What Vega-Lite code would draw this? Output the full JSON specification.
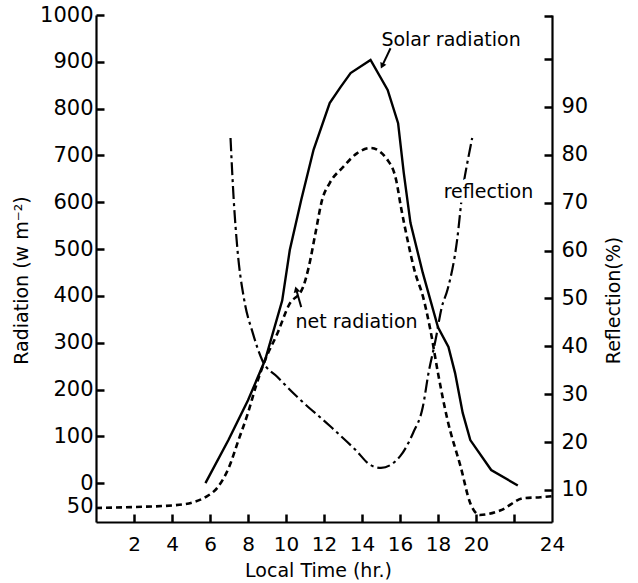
{
  "$schema": "https://vega.github.io/schema/vega-lite/v6.json",
  "width": 456,
  "height": 507,
  "autosize": {"type": "none"},
  "padding": {"left": 96, "top": 15, "right": 86, "bottom": 61},
  "background": "white",
  "config": {
    "view": {"stroke": null},
    "font": "DejaVu Sans",
    "axis": {
      "domainColor": "black", "domainWidth": 2.2,
      "labelColor": "black", "labelFont": "DejaVu Sans", "labelFontSize": 21, "labelFlush": false, "labelOverlap": false,
      "titleColor": "black", "titleFont": "DejaVu Sans", "titleFontSize": 19, "titleFontWeight": "normal"
    }
  },
  "datasets": {
    "curves": [
      {"series": "solar", "hour": 5.76, "value": 0},
      {"series": "solar", "hour": 6.97, "value": 92},
      {"series": "solar", "hour": 8.0, "value": 177},
      {"series": "solar", "hour": 8.9, "value": 263},
      {"series": "solar", "hour": 9.8, "value": 390},
      {"series": "solar", "hour": 10.2, "value": 498},
      {"series": "solar", "hour": 10.8, "value": 605},
      {"series": "solar", "hour": 11.45, "value": 712},
      {"series": "solar", "hour": 12.3, "value": 812},
      {"series": "solar", "hour": 12.87, "value": 846},
      {"series": "solar", "hour": 13.4, "value": 876},
      {"series": "solar", "hour": 14.45, "value": 904},
      {"series": "solar", "hour": 15.35, "value": 840},
      {"series": "solar", "hour": 15.9, "value": 769},
      {"series": "solar", "hour": 16.2, "value": 662},
      {"series": "solar", "hour": 16.55, "value": 556},
      {"series": "solar", "hour": 17.2, "value": 449},
      {"series": "solar", "hour": 18.0, "value": 333},
      {"series": "solar", "hour": 18.55, "value": 291},
      {"series": "solar", "hour": 18.9, "value": 235},
      {"series": "solar", "hour": 19.3, "value": 150},
      {"series": "solar", "hour": 19.7, "value": 92},
      {"series": "solar", "hour": 20.8, "value": 28},
      {"series": "solar", "hour": 22.2, "value": -5},
      {"series": "net", "hour": 0, "value": -53},
      {"series": "net", "hour": 2, "value": -51},
      {"series": "net", "hour": 4.2, "value": -47},
      {"series": "net", "hour": 5.1, "value": -41},
      {"series": "net", "hour": 5.76, "value": -30},
      {"series": "net", "hour": 6.4, "value": -9},
      {"series": "net", "hour": 7.0, "value": 34},
      {"series": "net", "hour": 7.5, "value": 92},
      {"series": "net", "hour": 8.0, "value": 150},
      {"series": "net", "hour": 8.4, "value": 205},
      {"series": "net", "hour": 8.9, "value": 263},
      {"series": "net", "hour": 9.55, "value": 320},
      {"series": "net", "hour": 10.15, "value": 380},
      {"series": "net", "hour": 10.9, "value": 419},
      {"series": "net", "hour": 11.2, "value": 462},
      {"series": "net", "hour": 11.55, "value": 534},
      {"series": "net", "hour": 11.9, "value": 605},
      {"series": "net", "hour": 12.3, "value": 641},
      {"series": "net", "hour": 13.0, "value": 675},
      {"series": "net", "hour": 13.75, "value": 705},
      {"series": "net", "hour": 14.45, "value": 716},
      {"series": "net", "hour": 15.35, "value": 690},
      {"series": "net", "hour": 15.8, "value": 647},
      {"series": "net", "hour": 16.05, "value": 590},
      {"series": "net", "hour": 16.4, "value": 519},
      {"series": "net", "hour": 16.8, "value": 449},
      {"series": "net", "hour": 17.2, "value": 400},
      {"series": "net", "hour": 17.6, "value": 327},
      {"series": "net", "hour": 18.0, "value": 235},
      {"series": "net", "hour": 18.5, "value": 135},
      {"series": "net", "hour": 19.2, "value": 34},
      {"series": "net", "hour": 19.7, "value": -43},
      {"series": "net", "hour": 20.2, "value": -68},
      {"series": "net", "hour": 21.3, "value": -58},
      {"series": "net", "hour": 22.5, "value": -32},
      {"series": "net", "hour": 23.4, "value": -30},
      {"series": "net", "hour": 24, "value": -28}
    ],
    "reflection": [
      {"hour": 7.08, "pct": 83.5},
      {"hour": 7.25, "pct": 70.5},
      {"hour": 7.45, "pct": 60},
      {"hour": 7.8, "pct": 49.7},
      {"hour": 8.25, "pct": 42.8},
      {"hour": 8.75, "pct": 37.1},
      {"hour": 9.55, "pct": 33.6},
      {"hour": 10.6, "pct": 29.4},
      {"hour": 12.3, "pct": 23.4},
      {"hour": 13.65, "pct": 18.4},
      {"hour": 14.45, "pct": 15.2},
      {"hour": 15.0, "pct": 14.6},
      {"hour": 16.0, "pct": 17},
      {"hour": 16.7, "pct": 22},
      {"hour": 17.2, "pct": 27.3},
      {"hour": 17.5, "pct": 34.4},
      {"hour": 17.87, "pct": 41.3},
      {"hour": 18.2, "pct": 48.2},
      {"hour": 18.5, "pct": 51.8},
      {"hour": 19.0, "pct": 62},
      {"hour": 19.3, "pct": 72.6},
      {"hour": 19.6, "pct": 79.5},
      {"hour": 19.8, "pct": 83.5}
    ],
    "reflectionLabel": [
      {"label": "reflection", "hour": 18.3, "pct": 72.2}
    ],
    "labels": [
      {"label": "Solar radiation", "hour": 15.02, "value": 947},
      {"label": "net radiation", "hour": 10.5, "value": 344}
    ],
    "arrows": [
      {"arrow": "solar", "hour": 15.5, "value": 929, "hour2": 15.08, "value2": 893},
      {"arrow": "net", "hour": 10.8, "value": 376, "hour2": 10.55, "value2": 412}
    ]
  },
  "layer": [
    {
      "data": {"name": "reflection"},
      "mark": {"type": "line", "color": "black", "strokeWidth": 2.2, "strokeDash": [13, 4, 3, 4], "interpolate": "monotone"},
      "encoding": {
        "x": {"field": "hour", "type": "quantitative", "scale": {"domain": [0, 24], "nice": false, "zero": false},
          "axis": {"orient": "bottom", "grid": false, "labelFlush": false, "values": [2, 4, 6, 8, 10, 12, 14, 16, 18, 20, 22, 24], "labelExpr": "datum.value === 22 ? '' : datum.label", "ticks": false, "labelPadding": 12, "labelFontSize": 20, "title": "Local Time (hr.)", "titleX": 222, "titleY": 48, "titleBaseline": "middle", "titleAlign": "center"}},
        "y": {"field": "pct", "type": "quantitative", "scale": {"domain": [3.3, 109.2], "nice": false, "zero": false},
          "axis": {"orient": "right", "grid": false, "labelFlush": false, "values": [10, 20, 30, 40, 50, 60, 70, 80, 90], "ticks": false, "labelPadding": 9, "title": "Reflection(%)", "titleX": 61, "titleY": 285, "titleAngle": 270, "titleBaseline": "middle", "titleAlign": "center"}}
      }
    },
    {
      "data": {"name": "reflectionLabel"},
      "mark": {"type": "text", "align": "left", "baseline": "middle", "fontSize": 19, "font": "DejaVu Sans", "color": "white", "stroke": "white", "strokeWidth": 9},
      "encoding": {
        "x": {"field": "hour", "type": "quantitative", "axis": null},
        "y": {"field": "pct", "type": "quantitative", "scale": {"domain": [3.3, 109.2], "nice": false, "zero": false},
          "axis": {"orient": "left", "grid": false, "offset": -456, "values": [10, 20, 30, 40, 50, 60, 70, 80, 90, 100, 109], "tickSize": 8, "tickWidth": 2.5, "tickColor": "black", "labels": false, "domain": false, "title": null}},
        "text": {"field": "label"}
      }
    },
    {
      "data": {"name": "reflectionLabel"},
      "mark": {"type": "text", "align": "left", "baseline": "middle", "fontSize": 19, "font": "DejaVu Sans", "color": "black"},
      "encoding": {
        "x": {"field": "hour", "type": "quantitative", "axis": null},
        "y": {"field": "pct", "type": "quantitative", "scale": {"domain": [3.3, 109.2], "nice": false, "zero": false}, "axis": null},
        "text": {"field": "label"}
      }
    },
    {
      "data": {"name": "curves"},
      "transform": [{"filter": "datum.series === 'solar'"}],
      "mark": {"type": "line", "color": "black", "strokeWidth": 2.4, "interpolate": "linear"},
      "encoding": {
        "x": {"field": "hour", "type": "quantitative", "axis": null},
        "y": {"field": "value", "type": "quantitative", "scale": {"domain": [-83, 1000], "nice": false, "zero": false},
          "axis": {"orient": "left", "grid": false, "labelFlush": false, "values": [-50, 0, 100, 200, 300, 400, 500, 600, 700, 800, 900, 1000], "format": "d", "labelExpr": "datum.value < 0 ? '50' : datum.label", "ticks": false, "labelPadding": 3, "title": "Radiation (w m⁻²)", "titleX": -75, "titleY": 265, "titleAngle": 270, "titleBaseline": "middle", "titleAlign": "center"}}
      }
    },
    {
      "data": {"name": "curves"},
      "transform": [{"filter": "datum.series === 'net'"}],
      "mark": {"type": "line", "color": "black", "strokeWidth": 2.6, "strokeDash": [6, 4], "interpolate": "monotone"},
      "encoding": {
        "x": {"field": "hour", "type": "quantitative", "axis": null},
        "y": {"field": "value", "type": "quantitative", "scale": {"domain": [-83, 1000], "nice": false, "zero": false},
          "axis": {"orient": "right", "grid": false, "offset": -456, "values": [0, 100, 200, 300, 400, 500, 600, 700, 800, 900, 1000], "tickSize": 8, "tickWidth": 2.5, "tickColor": "black", "labels": false, "domain": false, "title": null}}
      }
    },
    {
      "data": {"name": "labels"},
      "mark": {"type": "text", "align": "left", "baseline": "middle", "fontSize": 19, "font": "DejaVu Sans", "color": "black"},
      "encoding": {
        "x": {"field": "hour", "type": "quantitative",
          "axis": {"orient": "top", "grid": false, "offset": -507, "values": [2, 4, 6, 8, 10, 12, 14, 16, 18, 20, 22], "tickSize": 8, "tickWidth": 2.5, "tickColor": "black", "labels": false, "domain": false, "title": null}},
        "y": {"field": "value", "type": "quantitative", "scale": {"domain": [-83, 1000], "nice": false, "zero": false}, "axis": null},
        "text": {"field": "label"}
      }
    },
    {
      "data": {"name": "arrows"},
      "mark": {"type": "rule", "color": "black", "strokeWidth": 2},
      "encoding": {
        "x": {"field": "hour", "type": "quantitative", "axis": null},
        "y": {"field": "value", "type": "quantitative", "scale": {"domain": [-83, 1000], "nice": false, "zero": false}, "axis": null},
        "x2": {"field": "hour2"},
        "y2": {"field": "value2"}
      }
    },
    {
      "data": {"name": "arrows"},
      "transform": [{"filter": "datum.arrow === 'solar'"}],
      "mark": {"type": "point", "shape": "triangle", "filled": true, "color": "black", "size": 45, "angle": 205, "opacity": 1},
      "encoding": {
        "x": {"field": "hour2", "type": "quantitative", "axis": null},
        "y": {"field": "value2", "type": "quantitative", "scale": {"domain": [-83, 1000], "nice": false, "zero": false}, "axis": null}
      }
    },
    {
      "data": {"name": "arrows"},
      "transform": [{"filter": "datum.arrow === 'net'"}],
      "mark": {"type": "point", "shape": "triangle", "filled": true, "color": "black", "size": 45, "angle": 344, "opacity": 1},
      "encoding": {
        "x": {"field": "hour2", "type": "quantitative", "axis": null},
        "y": {"field": "value2", "type": "quantitative", "scale": {"domain": [-83, 1000], "nice": false, "zero": false}, "axis": null}
      }
    }
  ],
  "resolve": {"scale": {"y": "independent"}, "axis": {"x": "independent", "y": "independent"}}
}
